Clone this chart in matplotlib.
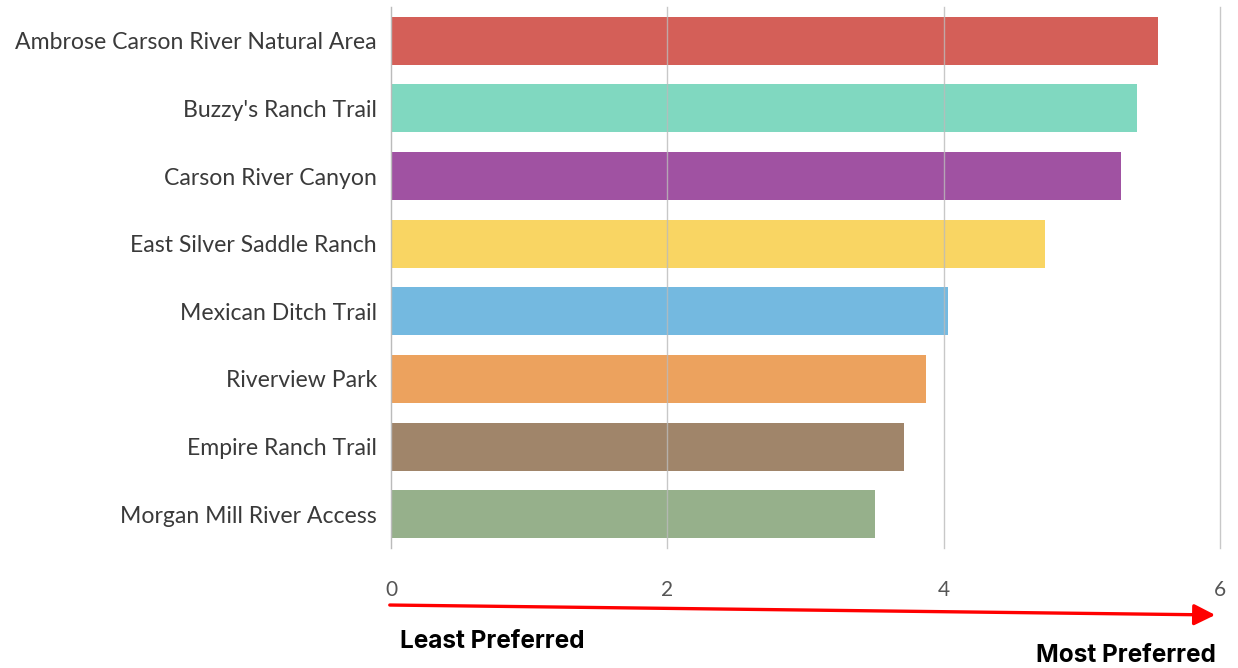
import matplotlib.pyplot as plt
from matplotlib.patches import FancyArrowPatch

sites = ['Ambrose Carson River Natural Area', "Buzzy's Ranch Trail", 'Carson River Canyon',
         'East Silver Saddle Ranch', 'Mexican Ditch Trail', 'Riverview Park',
         'Empire Ranch Trail', 'Morgan Mill River Access']
scores = [5.55, 5.40, 5.28, 4.73, 4.03, 3.87, 3.71, 3.50]
colors = ['#d45f58', '#80d8c0', '#a052a2', '#f9d563', '#74b9e0', '#eca25e', '#a0856a', '#96b08b']
xticks = [0, 2, 4, 6]

fig = plt.figure(figsize=(12.38, 6.68), dpi=100)
ax = fig.add_axes([391 / 1238, 1 - 548 / 668, (1220 - 391) / 1238, 541 / 668])

ax.barh(range(len(sites)), scores, height=0.71, color=colors, zorder=1)
ax.set_ylim(7.5, -0.5)
ax.set_xlim(0, 6)
ax.set_xticks(xticks)
ax.set_yticks(range(len(sites)))
ax.set_yticklabels(sites, family='Lato', fontsize=16.6, color='#3a3a3a')
for lbl in ax.get_xticklabels():
    lbl.set_family('Lato')
ax.tick_params(axis='x', length=0, pad=23, labelsize=15, labelcolor='#555555')
ax.tick_params(axis='y', length=0, pad=10)
ax.grid(axis='x', color='#bbbbbb', linewidth=1, alpha=0.8, zorder=2)
for gl in ax.get_xgridlines():
    gl.set_clip_on(False)
ax.set_axisbelow(False)
for s in ['top', 'right', 'bottom']:
    ax.spines[s].set_visible(False)
ax.spines['left'].set_color('#bbbbbb')

# preference arrow
fig.patches.append(FancyArrowPatch(
    (387 / 1238, 1 - 605 / 668), (1218 / 1238, 1 - 615 / 668),
    transform=fig.transFigure, arrowstyle='-|>,head_length=8,head_width=4',
    color='red', linewidth=2.4, mutation_scale=1.6))

fig.text(400 / 1238, 1 - 641 / 668, 'Least Preferred', family='Inter', fontweight='bold',
         fontsize=17.5, va='center', ha='left', color='black')
fig.text(1216 / 1238, 1 - 655 / 668, 'Most Preferred', family='Inter', fontweight='bold',
         fontsize=17.5, va='center', ha='right', color='black')

fig.savefig('out.png', dpi=100)
